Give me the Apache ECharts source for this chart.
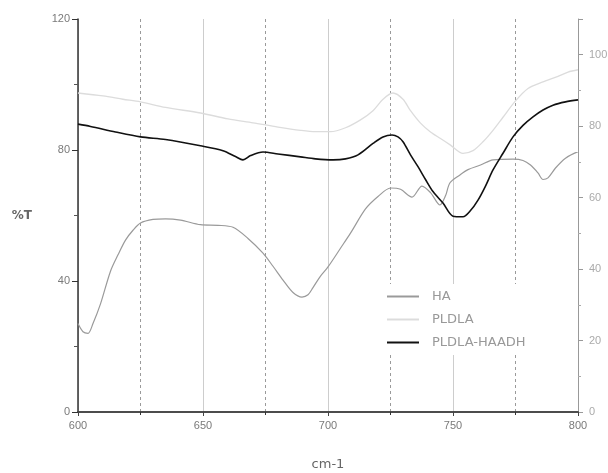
<!DOCTYPE html>
<html><head><meta charset="utf-8">
<script src="https://cdn.jsdelivr.net/npm/echarts@6/dist/echarts.min.js"></script>
<style>html,body{margin:0;padding:0;background:#fff}#c{width:608px;height:473px}</style>
</head><body><div id="c"></div>
<script>
const seriesNames = ['HA', 'PLDLA', 'PLDLA-HAADH'];
const haX = [600,602,604,606,609,613,616,619,622,625,630,635,641,649,656,662,668,674,678,682,686,689.6,692,694,697,700,705,709,715,720,725,729,733.6,737.6,741,744.8,747,748.8,752.8,756,761,766,774,778,781,784,786,788,791,795,800];
const haY = [27,24.5,24,27,33,43,48,52.5,55.5,57.7,58.8,59,58.6,57.2,57,56.4,53,48.5,44.5,40.3,36.5,35.1,35.8,38,41.5,44.3,50,54.6,62,65.8,68.4,68,65.6,69,67,63.2,66,70,72.4,74,75.4,77,77.2,76.8,75.4,73,71,71.5,74.5,77.5,79.5];
const pldlaX = [600,610,618,625,635,649,660,670,680,689,695,701,707,713,718,722,726,730,733,737,741,745,749,754,758,762,766,770,775,780,786,792,796,800];
const pldlaY = [97.4,96.5,95.5,94.7,93,91.3,89.5,88.3,87,86,85.6,85.6,86.8,89.2,92,95.5,97.4,95.5,92,88.2,85.5,83.5,81.5,79,79.8,82.5,86,90,95,98.8,100.8,102.5,103.8,104.5];
const mixX = [600,605,615,625,635,649,658,663,666,669,674,680,689,695,702,707,712,718,722,725.6,728,730,733,736,739,742,746,750,754,757,760,763,766,770,774,778,782,786,790,795,800];
const mixY = [87.9,87.2,85.5,84,83.2,81.3,79.8,78,77,78.3,79.4,78.8,77.9,77.3,77,77.3,78.5,82,84,84.6,84,82.5,78.5,74.9,71,67.3,63.8,59.8,59.6,61.5,64.7,69,73.9,79,84,87.5,90.1,92.2,93.7,94.7,95.3];
const xMin = 600, xMax = 800, xMajor = 50, xMinor = 25;
const yLeftMax = 120, yLeftStep = 40;
const yRightMax = 110, yRightStep = 20;

const zip = (xs, ys) => xs.map((x, i) => [x, ys[i]]);
const grayTxt = '#7a7a7a';
const chart = echarts.init(document.getElementById('c'), null, {renderer: 'canvas'});
chart.setOption({
  animation: false,
  backgroundColor: '#fff',
  grid: {left: 78, right: 30, top: 19, bottom: 61, containLabel: false, outerBoundsMode: 'none'},
  legend: {
    data: seriesNames, orient: 'vertical', left: 379, top: 284, width: 199, height: 106,
    padding: [6, 10, 6, 8],
    backgroundColor: '#fff', itemWidth: 32, itemHeight: 10, itemGap: 10,
    icon: 'path://M0,4 L32,4 L32,6 L0,6 Z',
    textStyle: {color: '#999', fontSize: 13, fontFamily: 'DejaVu Sans', padding: [0, 0, 0, 8]}
  },
  xAxis: [{
    type: 'value', min: xMin, max: xMax, interval: xMinor, position: 'bottom',
    name: 'cm-1', nameLocation: 'middle', nameGap: 46,
    nameTextStyle: {color: '#666', fontSize: 13, fontFamily: 'DejaVu Sans'},
    axisLine: {show: true, lineStyle: {color: '#333', width: 1.5}},
    axisTick: {show: true, length: 3, lineStyle: {color: '#333'}},
    axisLabel: {color: grayTxt, fontSize: 11, margin: 8, formatter: v => (v % xMajor === 0 ? v : '')},
    splitLine: {show: true, lineStyle: {color: '#9a9a9a', type: [3, 3], width: 1}}
  }, {
    type: 'value', min: xMin, max: xMax, interval: xMajor, position: 'top',
    axisLine: {show: true, lineStyle: {color: '#444', width: 1.5}},
    axisTick: {show: true, inside: true, length: 4, lineStyle: {color: '#444'}},
    axisLabel: {show: false},
    splitLine: {show: true, lineStyle: {color: '#cdcdcd', type: 'solid', width: 1}}
  }],
  yAxis: [{
    type: 'value', min: 0, max: yLeftMax, interval: yLeftStep, position: 'left',
    name: '%T', nameLocation: 'middle', nameRotate: 0, nameGap: 46,
    nameTextStyle: {color: '#666', fontSize: 12, fontFamily: 'DejaVu Sans', fontWeight: 'bold'},
    axisLine: {show: true, lineStyle: {color: '#333', width: 1.5}},
    axisTick: {show: true, length: 6, lineStyle: {color: '#333'}},
    minorTick: {show: true, splitNumber: 2, length: 4, lineStyle: {color: '#555'}},
    axisLabel: {color: grayTxt, fontSize: 11, margin: 8},
    splitLine: {show: false}
  }, {
    type: 'value', min: 0, max: yRightMax, interval: yRightStep, position: 'right',
    axisLine: {show: true, lineStyle: {color: '#999', width: 1}},
    axisTick: {show: true, length: 5, lineStyle: {color: '#999'}},
    minorTick: {show: true, splitNumber: 2, length: 3, lineStyle: {color: '#aaa'}},
    axisLabel: {color: '#aaa', fontSize: 11, margin: 11, formatter: v => (v > 100 ? '' : v)},
    splitLine: {show: false}
  }],
  series: [
    {name: 'HA', type: 'line', data: zip(haX, haY), smooth: 0.3, showSymbol: false,
     lineStyle: {color: '#9a9a9a', width: 1.2}, itemStyle: {color: '#9a9a9a'}, z: 3},
    {name: 'PLDLA', type: 'line', data: zip(pldlaX, pldlaY), smooth: 0.3, showSymbol: false,
     lineStyle: {color: '#dcdcdc', width: 1.3}, itemStyle: {color: '#dcdcdc'}, z: 2},
    {name: 'PLDLA-HAADH', type: 'line', data: zip(mixX, mixY), smooth: 0.3, showSymbol: false,
     lineStyle: {color: '#111', width: 1.6}, itemStyle: {color: '#111'}, z: 4}
  ]
});
</script></body></html>
